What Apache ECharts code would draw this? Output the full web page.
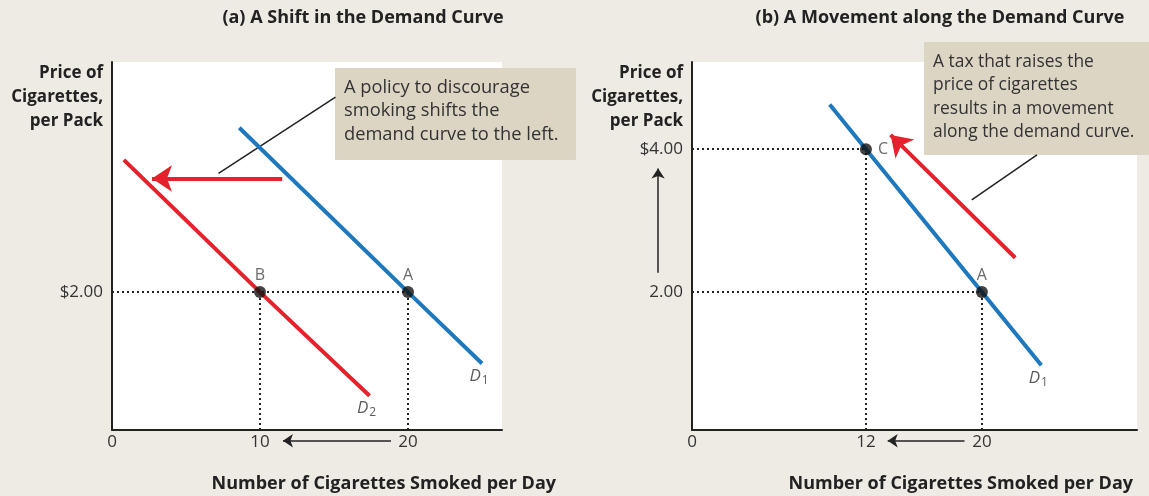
<!DOCTYPE html>
<html><head><meta charset="utf-8">
<script src="https://cdn.jsdelivr.net/npm/echarts@6/dist/echarts.min.js"></script>
<style>html,body{margin:0;padding:0;background:#eeeae4}#c{width:1149px;height:496px}</style>
</head><body><div id="c"></div><script>
// ---------- text ----------
const panelTitles = ['(a) A Shift in the Demand Curve', '(b) A Movement along the Demand Curve'];
const yAxisTitle = 'Price of\nCigarettes,\nper Pack';
const xAxisTitle = 'Number of Cigarettes Smoked per Day';
const calloutTextA = 'A policy to discourage\nsmoking shifts the\ndemand curve to the left.';
const calloutTextB = 'A tax that raises the\nprice of cigarettes\nresults in a movement\nalong the demand curve.';
// ---------- ticks ----------
const xTicksA = [0, 10, 20];
const xTicksB = [0, 12, 20];
const yTicksA = [2];
const yTickLabelsA = ['$2.00'];
const yTicksB = [2, 4];
const yTickLabelsB = ['2.00', '$4.00'];
// ---------- panel (a) data: [quantity, price] ----------
const demandD1a = [[8.6, 4.3], [20, 2], [25, 1]];
const demandD2a = [[0.8, 3.85], [10, 2], [17.4, 0.55]];
const pointsA = [['B', 10, 2], ['A', 20, 2]];
const shiftArrowA = [[11.5, 3.59], [2.7, 3.59]];
const calloutLineA = [[7.2, 3.66], [15.1, 4.73]];
const qtyArrowA = [[18.85, -0.08], [11.55, -0.08]];
// ---------- panel (b) data ----------
const demandD1b = [[9.5, 4.625], [12, 4], [20, 2], [24.1, 0.975]];
const pointsB = [['C', 12, 4], ['A', 20, 2]];
const moveArrowB = [[22.3, 2.48], [13.7, 4.2]];
const calloutLineB = [[19.3, 3.29], [23.8, 3.92]];
const qtyArrowB = [[18.8, -0.08], [13.5, -0.08]];
const priceArrowB = [[-2.34, 2.27], [-2.34, 3.73]];

const FONT = 'Open Sans';
const BLUE = '#1d78bd', RED = '#e5222c', INK = '#222';
const chart = echarts.init(document.getElementById('c'));

function guides(points, xi) {
  const segs = [];
  points.forEach(p => {
    segs.push({coords: [[0, p[2]], [p[1], p[2]]]});
    segs.push({coords: [[p[1], 0], [p[1], p[2]]]});
  });
  return {type: 'lines', coordinateSystem: 'cartesian2d', xAxisIndex: xi, yAxisIndex: xi, z: 1,
    lineStyle: {color: INK, width: 2, type: [2, 3], opacity: 1}, data: segs};
}
function seg(coords, xi, color, width, arrow, size, z) {
  return {type: 'lines', coordinateSystem: 'cartesian2d', xAxisIndex: xi, yAxisIndex: xi, clip: false, z: z || 3,
    symbol: arrow ? ['none', 'arrow'] : ['none', 'none'], symbolSize: size || 10,
    lineStyle: {color: color, width: width, opacity: 1}, data: [{coords: coords}]};
}
function demand(data, xi, color) {
  return {type: 'line', xAxisIndex: xi, yAxisIndex: xi, data: data, showSymbol: false, z: 4,
    lineStyle: {color: color, width: 4}, silent: true};
}
function dLabel(data, xi, sub) {
  const last = data[data.length - 1];
  return {type: 'scatter', xAxisIndex: xi, yAxisIndex: xi, symbolSize: 2, z: 5,
    itemStyle: {color: 'rgba(0,0,0,0)'},
    data: [last],
    label: {show: true, position: 'bottom', distance: 1, offset: [-3, 0], formatter: '{d|D}{s|' + sub + '}',
      rich: {d: {fontFamily: FONT, fontStyle: 'italic', fontSize: 17, color: '#333'},
             s: {fontFamily: FONT, fontSize: 12, color: '#333', padding: [9, 0, 0, 1]}}}};
}
function pts(points, xi, posFor) {
  return {type: 'scatter', xAxisIndex: xi, yAxisIndex: xi, symbolSize: 12, z: 6,
    itemStyle: {color: '#111'},
    data: points.map(p => ({name: p[0], value: [p[1], p[2]],
      label: {show: true, position: posFor(p[0]), distance: p[0] === 'C' ? 6 : 3, formatter: '{b}',
        fontFamily: FONT, fontSize: 16, color: '#444'}}))};
}
function xAx(gi, max, ticks) {
  return {type: 'value', gridIndex: gi, min: 0, max: max,
    axisLine: {onZero: false, lineStyle: {color: INK, width: 2}}, axisTick: {show: false}, splitLine: {show: false},
    axisLabel: {customValues: ticks, fontFamily: FONT, fontSize: 17, color: '#333', margin: 4}};
}
function yAx(gi, ticks, labels) {
  return {type: 'value', gridIndex: gi, min: 0.07, max: 5.22,
    axisLine: {onZero: false, lineStyle: {color: INK, width: 2}}, axisTick: {show: false}, splitLine: {show: false},
    axisLabel: {customValues: ticks, formatter: v => labels[ticks.indexOf(v)] || '',
      fontFamily: FONT, fontSize: 17, color: '#333', margin: 9}};
}
function box(x, y, w, h, txt, fs) {
  return {type: 'group', left: x, top: y, z: 10, children: [
    {type: 'rect', shape: {x: 0, y: 0, width: w, height: h}, style: {fill: '#ddd5c4'}},
    {type: 'text', left: 9, top: 8, style: {text: txt, fontFamily: FONT, fontSize: fs, lineHeight: 23.5, fill: '#333'}}
  ]};
}
function txt(x, y, text, align, opts) {
  return Object.assign({type: 'text', x: x, y: y, z: 10, style: Object.assign({text: text, align: align,
    verticalAlign: 'middle', fontFamily: FONT, fill: '#222'}, opts)});
}

chart.setOption({
  backgroundColor: '#eeeae4',
  animation: false,
  grid: [
    {left: 112, right: 647, top: 62, bottom: 66, show: true, backgroundColor: '#fff', borderWidth: 0},
    {left: 692, right: 12, top: 62, bottom: 66, show: true, backgroundColor: '#fff', borderWidth: 0}
  ],
  xAxis: [xAx(0, 26.35, xTicksA), xAx(1, 30.7, xTicksB)],
  yAxis: [yAx(0, yTicksA, yTickLabelsA), yAx(1, yTicksB, yTickLabelsB)],
  series: [
    guides(pointsA, 0),
    guides(pointsB, 1),
    demand(demandD1a, 0, BLUE),
    demand(demandD2a, 0, RED),
    demand(demandD1b, 1, BLUE),
    dLabel(demandD1a, 0, '1'),
    dLabel(demandD2a, 0, '2'),
    dLabel(demandD1b, 1, '1'),
    pts(pointsA, 0, () => 'top'),
    pts(pointsB, 1, n => n === 'C' ? 'right' : 'top'),
    seg(shiftArrowA, 0, RED, 4, true, [16, 20]),
    seg(moveArrowB, 1, RED, 4, true, [16, 20]),
    seg(calloutLineA, 0, INK, 1.5, false),
    seg(calloutLineB, 1, INK, 1.5, false),
    seg(qtyArrowA, 0, INK, 1.5, true, [7, 10]),
    seg(qtyArrowB, 1, INK, 1.5, true, [7, 10]),
    seg(priceArrowB, 1, INK, 1.5, true, [7, 10])
  ],
  graphic: [
    box(335, 68, 241, 92, calloutTextA, 18.3),
    box(924, 42, 225, 113, calloutTextB, 17.4),
    txt(363, 18, panelTitles[0], 'center', {fontSize: 18, fontWeight: 'bold'}),
    txt(940, 18, panelTitles[1], 'center', {fontSize: 18, fontWeight: 'bold'}),
    txt(103, 97, yAxisTitle, 'right', {fontSize: 17, fontWeight: 'bold', lineHeight: 24}),
    txt(683, 97, yAxisTitle, 'right', {fontSize: 17, fontWeight: 'bold', lineHeight: 24}),
    txt(556, 484, xAxisTitle, 'right', {fontSize: 18, fontWeight: 'bold'}),
    txt(1133, 484, xAxisTitle, 'right', {fontSize: 18, fontWeight: 'bold'})
  ]
});
</script></body></html>
